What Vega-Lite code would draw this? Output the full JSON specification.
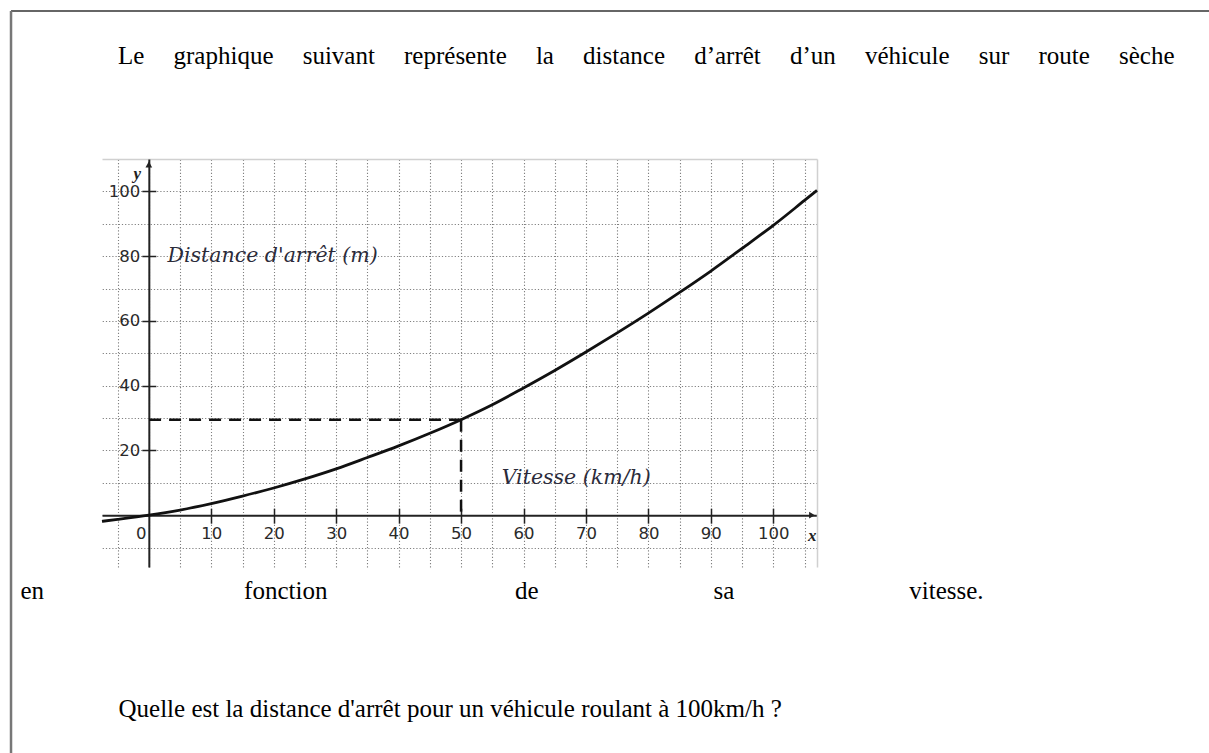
{
  "$schema": "https://vega.github.io/schema/vega-lite/v6.json",
  "width": 715,
  "height": 408,
  "autosize": {"type": "none"},
  "padding": {"left": 102, "top": 159, "right": 392, "bottom": 186},
  "background": "white",
  "config": {"view": {"stroke": null}},
  "title": {
    "text": "Le\u2003\u2006graphique\u2003\u2006suivant\u2003\u2006représente\u2003\u2006la\u2003\u2006distance\u2003\u2006d’arrêt\u2003\u2006d’un\u2003\u2006véhicule\u2003\u2006sur\u2003\u2006route\u2003\u2006sèche",
    "anchor": "start",
    "frame": "group",
    "dx": 16,
    "offset": 0,
    "dy": 78.75,
    "baseline": "alphabetic",
    "font": "Liberation Serif",
    "fontSize": 25,
    "fontWeight": "normal",
    "color": "#000000"
  },
  "datasets": {
    "courbe": [
      {"vitesse": -7.5, "distance": -1.9},
      {"vitesse": -5, "distance": -1.3},
      {"vitesse": 0, "distance": 0},
      {"vitesse": 5, "distance": 1.6},
      {"vitesse": 10, "distance": 3.6},
      {"vitesse": 15, "distance": 5.9},
      {"vitesse": 20, "distance": 8.4},
      {"vitesse": 25, "distance": 11.2},
      {"vitesse": 30, "distance": 14.3},
      {"vitesse": 35, "distance": 17.8},
      {"vitesse": 40, "distance": 21.4},
      {"vitesse": 45, "distance": 25.3},
      {"vitesse": 50, "distance": 29.5},
      {"vitesse": 55, "distance": 34.1},
      {"vitesse": 60, "distance": 39.3},
      {"vitesse": 65, "distance": 44.7},
      {"vitesse": 70, "distance": 50.4},
      {"vitesse": 75, "distance": 56.3},
      {"vitesse": 80, "distance": 62.4},
      {"vitesse": 85, "distance": 68.8},
      {"vitesse": 90, "distance": 75.4},
      {"vitesse": 95, "distance": 82.4},
      {"vitesse": 100, "distance": 89.5},
      {"vitesse": 105, "distance": 97.2},
      {"vitesse": 107, "distance": 100.3}
    ],
    "lecture": [{"vitesse": 50, "distance": 29.5}],
    "etiquettes": [
      {"vitesse": 3, "distance": 80, "texte": "Distance d'arrêt (m)"},
      {"vitesse": 56.5, "distance": 11.5, "texte": "Vitesse (km/h)"}
    ]
  },
  "layer": [
    {
      "data": {"name": "courbe"},
      "mark": {"type": "line", "color": "#111111", "strokeWidth": 2.8, "interpolate": "monotone", "clip": false},
      "encoding": {
        "x": {
          "field": "vitesse", "type": "quantitative",
          "scale": {"domain": [-7.5, 107], "nice": false, "zero": false},
          "axis": {
            "orient": "top", "offset": 0,
            "values": [-5, 0, 5, 10, 15, 20, 25, 30, 35, 40, 45, 50, 55, 60, 65, 70, 75, 80, 85, 90, 95, 100, 105],
            "grid": true, "gridColor": "#808080", "gridDash": [1.2, 2], "gridWidth": 1.1,
            "domain": true, "domainColor": "#d0d0d0", "domainWidth": 1.5,
            "ticks": false, "labels": false,
            "title": "Quelle est la distance d'arrêt pour un véhicule roulant à 100km/h ?",
            "titleX": 16, "titleY": 557, "titleAlign": "left", "titleBaseline": "alphabetic", "titleAngle": 0,
            "titleFont": "Liberation Serif", "titleFontSize": 25, "titleFontWeight": "normal", "titleColor": "#000000"
          }
        },
        "y": {
          "field": "distance", "type": "quantitative",
          "scale": {"domain": [-16, 110], "nice": false, "zero": false},
          "axis": {
            "orient": "right", "offset": 0,
            "values": [-10, 0, 10, 20, 30, 40, 50, 60, 70, 80, 90, 100],
            "grid": true, "gridColor": "#808080", "gridDash": [1.2, 2], "gridWidth": 1.1,
            "domain": true, "domainColor": "#d0d0d0", "domainWidth": 1.5,
            "ticks": false, "labels": false, "title": null
          }
        }
      }
    },
    {
      "data": {"name": "lecture"},
      "mark": {"type": "rule", "color": "#111111", "strokeWidth": 2.5, "strokeDash": [12, 8], "clip": false},
      "encoding": {
        "x": {
          "field": "vitesse", "type": "quantitative",
          "scale": {"domain": [-7.5, 107], "nice": false, "zero": false},
          "axis": {
            "orient": "bottom", "offset": -51.81,
            "values": [0, 10, 20, 30, 40, 50, 60, 70, 80, 90, 100],
            "grid": false,
            "domain": true, "domainColor": "#222222", "domainWidth": 2,
            "ticks": true, "tickSize": 8, "tickColor": "#222222", "tickWidth": 1.5,
            "tickOpacity": {"condition": {"test": "datum.value === 0", "value": 0}, "value": 1},
            "labels": true, "labelFont": "DejaVu Sans", "labelFontSize": 16.5, "labelColor": "#2a2a2a", "labelPadding": 2,
            "labelOffset": {"condition": {"test": "datum.value === 0", "value": -8}, "value": 0},
            "labelFlush": false, "labelOverlap": false, "labelBound": false,
            "title": "en\u2003\u2003\u2003\u2003\u2003\u2003\u2003\u2003fonction\u2003\u2003\u2003\u2003\u2003\u2003\u2003\u2002de\u2003\u2003\u2003\u2003\u2003\u2003\u2003sa\u2003\u2003\u2003\u2003\u2003\u2003\u2003vitesse.",
            "titleX": -82, "titleY": 83, "titleAlign": "left", "titleBaseline": "alphabetic", "titleAngle": 0,
            "titleFont": "Liberation Serif", "titleFontSize": 25, "titleFontWeight": "normal", "titleColor": "#000000"
          }
        },
        "y": {
          "field": "distance", "type": "quantitative",
          "scale": {"domain": [-16, 110], "nice": false, "zero": false},
          "axis": {
            "orient": "left", "offset": -46.83,
            "values": [20, 40, 60, 80, 100],
            "grid": false,
            "domain": true, "domainColor": "#222222", "domainWidth": 2,
            "ticks": true, "tickSize": 7, "tickColor": "#222222", "tickWidth": 1.5,
            "labels": true, "labelFont": "DejaVu Sans", "labelFontSize": 16.5, "labelColor": "#2a2a2a", "labelPadding": 2,
            "labelOverlap": false, "labelBound": false,
            "title": "y", "titleX": -12, "titleY": 14, "titleAngle": 0, "titleAlign": "center", "titleBaseline": "middle",
            "titleFont": "Liberation Serif", "titleFontStyle": "italic", "titleFontWeight": "bold", "titleFontSize": 17, "titleColor": "#222222"
          }
        },
        "y2": {"datum": 0}
      }
    },
    {
      "data": {"name": "lecture"},
      "mark": {"type": "rule", "color": "#111111", "strokeWidth": 2.5, "strokeDash": [12, 8], "clip": false},
      "encoding": {
        "x": {
          "field": "vitesse", "type": "quantitative",
          "scale": {"domain": [-7.5, 107], "nice": false, "zero": false},
          "axis": {
            "orient": "top", "offset": -356.19,
            "values": [10, 20, 30, 40, 50, 60, 70, 80, 90, 100],
            "grid": false, "domain": false,
            "ticks": true, "tickSize": 7, "tickColor": "#222222", "tickWidth": 1.5,
            "labels": false,
            "title": "x", "titleX": 709.7, "titleY": 20, "titleAngle": 0, "titleAlign": "center", "titleBaseline": "middle",
            "titleFont": "Liberation Serif", "titleFontStyle": "italic", "titleFontWeight": "bold", "titleFontSize": 17, "titleColor": "#222222"
          }
        },
        "x2": {"datum": 0},
        "y": {
          "field": "distance", "type": "quantitative",
          "scale": {"domain": [-16, 110], "nice": false, "zero": false},
          "axis": {
            "orient": "right", "offset": -668.17,
            "values": [20, 40, 60, 80, 100],
            "grid": false, "domain": false,
            "ticks": true, "tickSize": 7, "tickColor": "#222222", "tickWidth": 1.5,
            "labels": false, "title": null
          }
        }
      }
    },
    {
      "data": {"name": "etiquettes"},
      "mark": {"type": "text", "align": "left", "baseline": "middle", "font": "DejaVu Serif", "fontStyle": "italic", "fontSize": 20.5, "color": "#2b2b3a", "clip": false},
      "encoding": {
        "x": {"field": "vitesse", "type": "quantitative", "axis": null},
        "y": {"field": "distance", "type": "quantitative", "axis": null},
        "text": {"field": "texte"}
      }
    },
    {
      "data": {"values": [{}]},
      "mark": {"type": "point", "shape": "triangle-up", "filled": true, "color": "#222222", "size": 45, "opacity": 1, "clip": false},
      "encoding": {
        "x": {"datum": 0, "type": "quantitative", "axis": null},
        "y": {"datum": 108.3, "type": "quantitative", "axis": null}
      }
    },
    {
      "data": {"values": [{}]},
      "mark": {"type": "point", "shape": "triangle-right", "filled": true, "color": "#222222", "size": 45, "opacity": 1, "clip": false},
      "encoding": {
        "x": {"datum": 106.2, "type": "quantitative", "axis": null},
        "y": {"datum": 0, "type": "quantitative", "axis": null}
      }
    },
    {
      "data": {"values": [{}]},
      "mark": {"type": "rule", "color": "#333333", "strokeWidth": 1.5, "clip": false},
      "encoding": {
        "x": {"datum": -22.07, "type": "quantitative", "axis": null},
        "x2": {"datum": 200},
        "y": {"datum": 155.7, "type": "quantitative", "axis": null}
      }
    },
    {
      "data": {"values": [{}]},
      "mark": {"type": "rule", "color": "#777777", "strokeWidth": 2.5, "clip": false},
      "encoding": {
        "x": {"datum": -22.07, "type": "quantitative", "axis": null},
        "y": {"datum": 155.7, "type": "quantitative", "axis": null},
        "y2": {"datum": -80}
      }
    }
  ],
  "resolve": {"axis": {"x": "independent", "y": "independent"}}
}
